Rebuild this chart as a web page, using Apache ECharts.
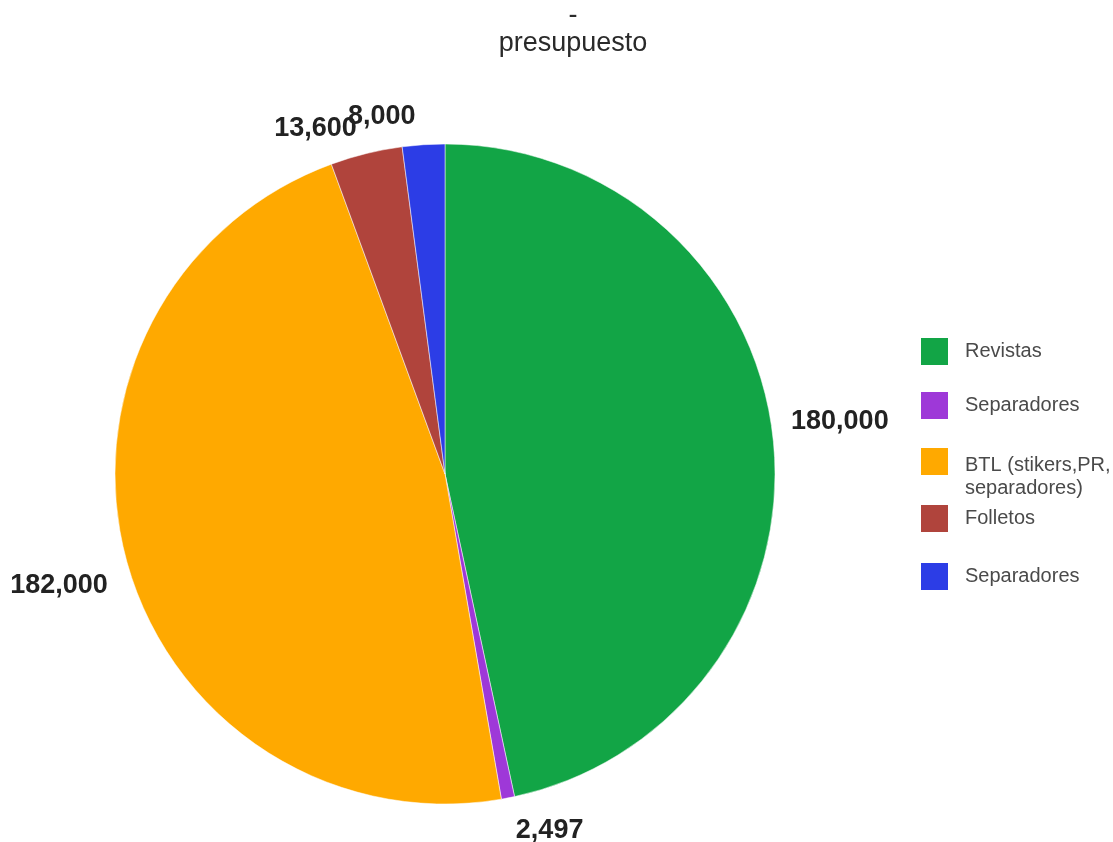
<!DOCTYPE html>
<html>
<head>
<meta charset="utf-8">
<script src="https://cdn.jsdelivr.net/npm/echarts@6/dist/echarts.min.js"></script>
<style>
html,body{margin:0;padding:0;background:#fff;}
#chart{width:1113px;height:842px;}
</style>
</head>
<body>
<div id="chart"></div>
<script>
// Data
var categoryIds = ['Revistas', 'Separadores (1)', 'BTL', 'Folletos', 'Separadores (2)'];
var categoryLabels = ['Revistas', 'Separadores', 'BTL (stikers,PR,\nseparadores)', 'Folletos', 'Separadores'];
var values = [180000, 2497, 182000, 13600, 8000];
var colors = ['#12a546', '#9e38d8', '#ffa900', '#b0443c', '#2c3de6'];
var titleText = '-\npresupuesto';

// label nudges (style only)
var labelNudge = [[-2, -16], [0, 18], [1, 22], [-1, -10], [-2, -13]];

var chart = echarts.init(document.getElementById('chart'), null, {renderer: 'canvas'});
var FONT = '"Liberation Sans", Arial, sans-serif';

var pieData = categoryIds.map(function (id, i) {
  return {name: id, value: values[i], itemStyle: {color: colors[i]}};
});

function legendFmt(name) {
  var label = categoryLabels[categoryIds.indexOf(name)];
  if (label.indexOf('\n') >= 0) {
    // multi-line entry: first line aligned with the swatch, rest flows below
    return '{s| }\n' + label.split('\n').map(function (l) { return '{t|' + l + '}'; }).join('\n');
  }
  return label;
}
function makeLegend(ids, top, gap) {
  return {
    orient: 'vertical',
    left: 921,
    top: top,
    padding: 0,
    itemWidth: 27,
    itemHeight: 27,
    itemGap: gap,
    icon: 'rect',
    itemStyle: {borderWidth: 0},
    data: ids,
    formatter: legendFmt,
    textStyle: {
      fontFamily: FONT, fontSize: 20, color: '#4a4a4a', lineHeight: 23, padding: [0, 0, 0, 12],
      rich: {
        s: {fontSize: 10, lineHeight: 31, fontFamily: FONT},
        t: {fontFamily: FONT, fontSize: 20, lineHeight: 23, color: '#4a4a4a'}
      }
    },
    selectedMode: false
  };
}

chart.setOption({
  animation: false,
  backgroundColor: '#ffffff',
  title: {
    text: titleText,
    left: 568,
    top: -3,
    textAlign: 'center',
    textStyle: {fontFamily: FONT, fontSize: 27, fontWeight: 'normal', color: '#2a2a2a', lineHeight: 28}
  },
  legend: [
    makeLegend(categoryIds.slice(0, 2), 338, 27),
    makeLegend(categoryIds.slice(2, 3), 423, 0),
    makeLegend(categoryIds.slice(3, 5), 505, 31)
  ],
  series: [{
    type: 'pie',
    center: [445, 474],
    radius: [0, 330],
    startAngle: 90,
    clockwise: true,
    avoidLabelOverlap: false,
    data: pieData,
    itemStyle: {borderColor: '#ffffff', borderWidth: 0.5},
    label: {
      show: true,
      position: 'outside',
      fontFamily: FONT,
      fontSize: 27,
      fontWeight: 'bold',
      color: '#222',
      formatter: function (p) { return p.value.toLocaleString('en-US'); }
    },
    labelLine: {show: false, length: 15, length2: 0},
    labelLayout: function (p) {
      var n = labelNudge[p.dataIndex];
      return {dx: n[0], dy: n[1], hideOverlap: false, moveOverlap: false};
    },
    emphasis: {disabled: true}
  }]
});
</script>
</body>
</html>
